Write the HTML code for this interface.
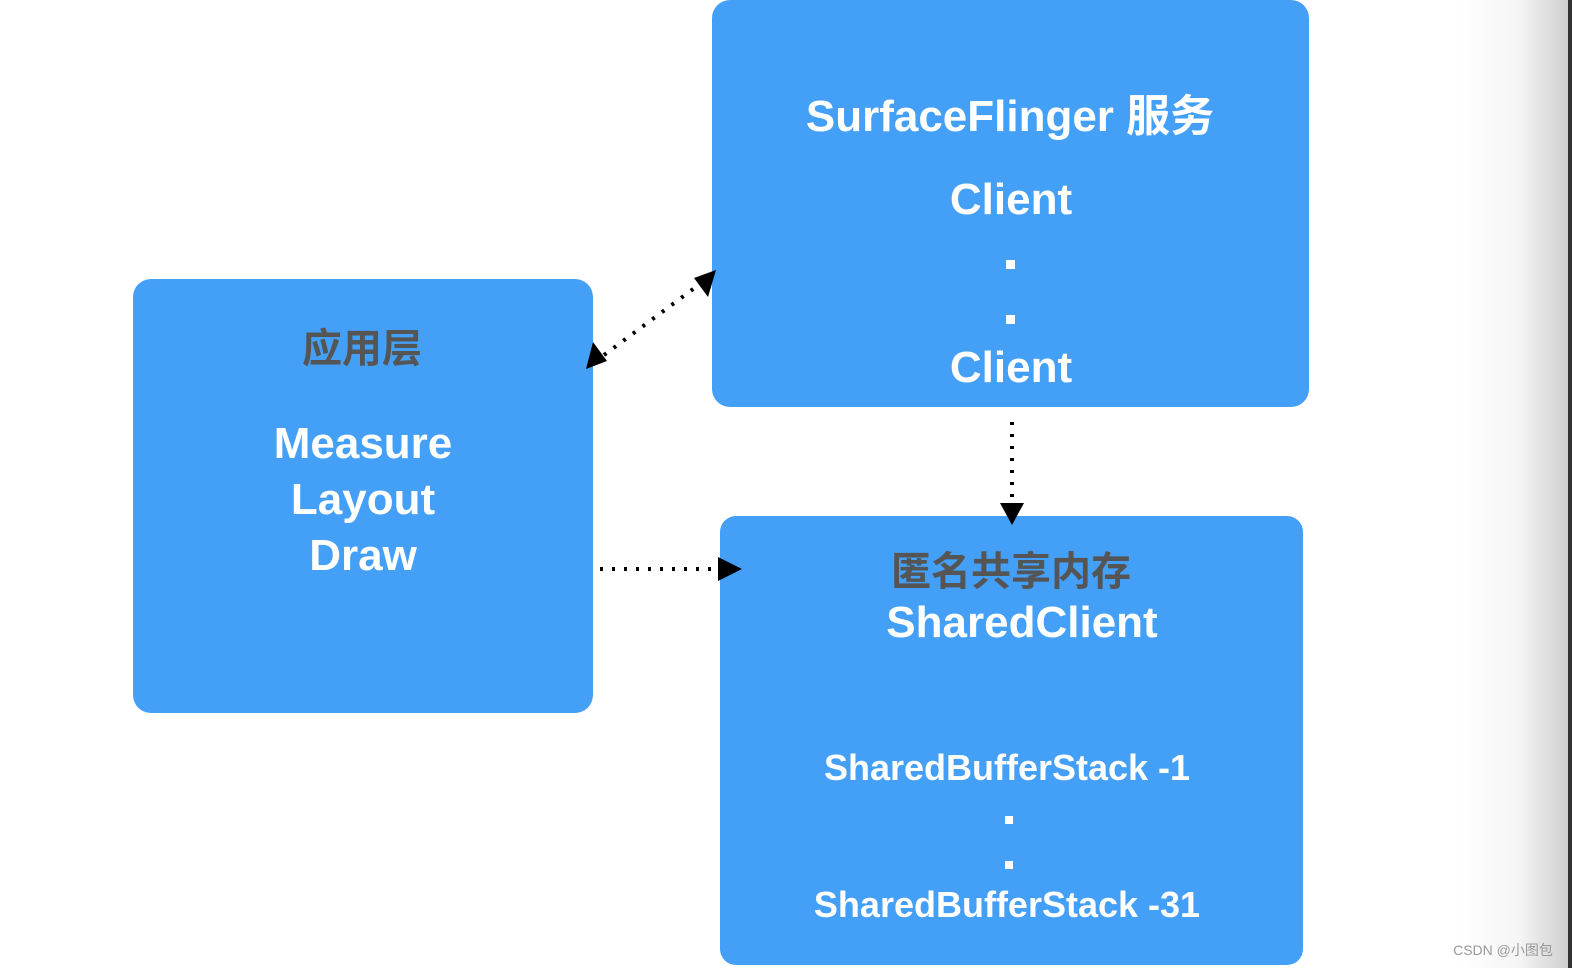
<!DOCTYPE html>
<html><head><meta charset="utf-8"><style>
html,body{margin:0;padding:0;background:#fff;}
svg{display:block}
text{font-family:"Liberation Sans","Noto Sans CJK SC",sans-serif;font-weight:bold;text-anchor:middle}
</style></head><body>
<svg width="1572" height="968" viewBox="0 0 1572 968" xmlns="http://www.w3.org/2000/svg">
<defs>
<linearGradient id="g" x1="0" x2="1" y1="0" y2="0">
<stop offset="0" stop-color="#fff"/><stop offset="0.55" stop-color="#f5f5f5"/><stop offset="1" stop-color="#cfcfcf"/>
</linearGradient>
</defs>
<rect x="1460" y="0" width="108" height="968" fill="url(#g)"/>
<rect x="1568" y="0" width="4" height="968" fill="#333"/>
<rect x="712" y="0" width="597" height="407" rx="18" fill="#44a0f7"/>
<rect x="133" y="279" width="460" height="434" rx="18" fill="#44a0f7"/>
<rect x="720" y="516" width="583" height="449" rx="16" fill="#44a0f7"/>
<g fill="#fff">
<text x="1010" y="131" font-size="44">SurfaceFlinger 服务</text>
<text x="1011" y="214" font-size="44">Client</text>
<rect x="1006" y="260" width="9" height="9"/>
<rect x="1006" y="315" width="9" height="9"/>
<text x="1011" y="382" font-size="44">Client</text>
<text x="363" y="458" font-size="44">Measure</text>
<text x="363" y="514" font-size="44">Layout</text>
<text x="363" y="570" font-size="44">Draw</text>
<text x="1022" y="637" font-size="44">SharedClient</text>
<text x="1007" y="780" font-size="36">SharedBufferStack -1</text>
<rect x="1005" y="816" width="8" height="8"/>
<rect x="1005" y="861" width="8" height="8"/>
<text x="1007" y="917" font-size="36">SharedBufferStack -31</text>
</g>
<g fill="#555">
<text x="362" y="362" font-size="40">应用层</text>
<text x="1011" y="585" font-size="40">匿名共享内存</text>
</g>
<g stroke="#000" stroke-width="4" stroke-dasharray="3 9" fill="none">
<line x1="604" y1="355" x2="700" y2="284"/>
<line x1="1012" y1="422" x2="1012" y2="505"/>
<line x1="600" y1="569" x2="720" y2="569"/>
</g>
<g fill="#000">
<polygon points="716,270 708,297 694,278"/>
<polygon points="586,369 593,342 607,361"/>
<polygon points="1012,525 1000,503 1024,503"/>
<polygon points="742,569 718,557 718,581"/>
</g>
<text x="1503" y="955" font-size="14" fill="#999" style="font-weight:normal">CSDN @小图包</text>
</svg>
</body></html>
